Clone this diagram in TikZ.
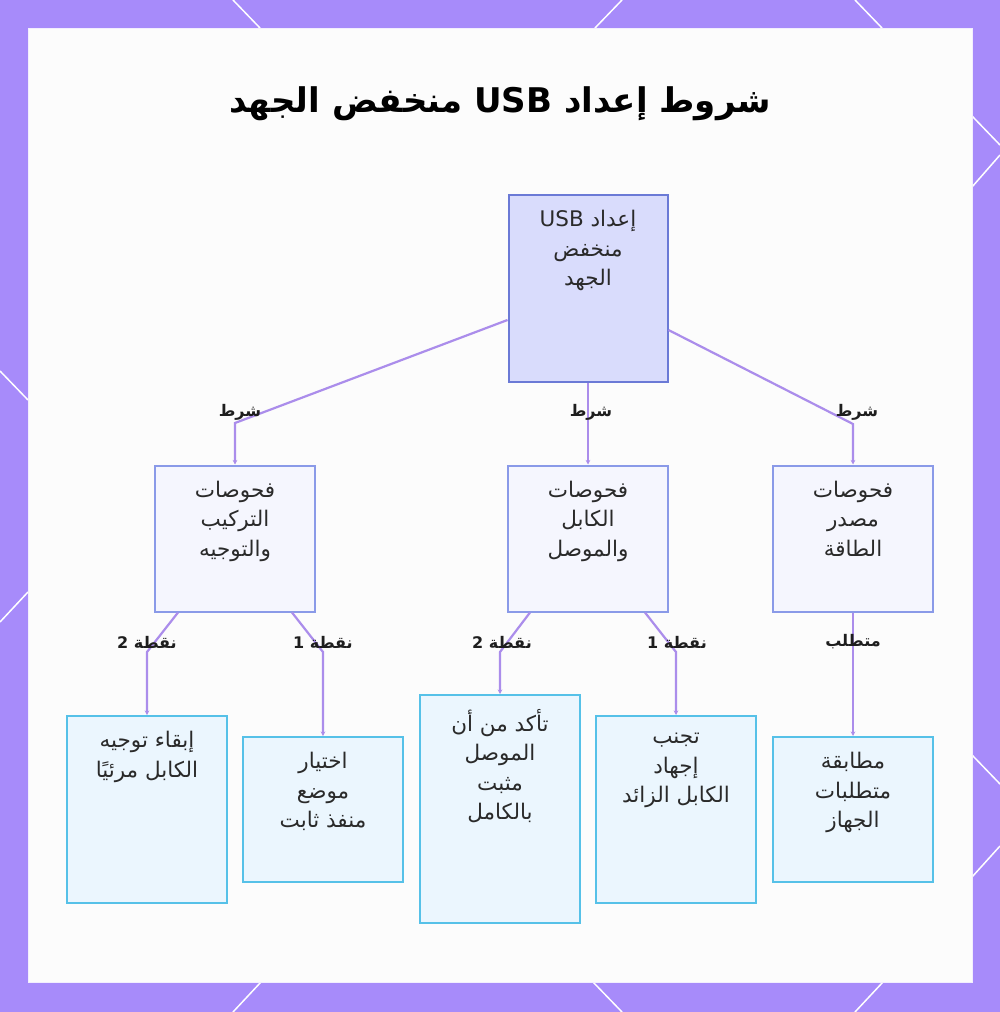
\documentclass[tikz,border=0pt]{standalone}
\usepackage{fontspec}
\newfontfamily\arabicfont[Script=Arabic]{DejaVu Sans}
\TeXXeTstate=1
\usetikzlibrary{arrows.meta}
\definecolor{bordc}{HTML}{A78BFA}
\definecolor{panelc}{HTML}{FCFCFC}
\definecolor{rootfill}{HTML}{D9DCFC}
\definecolor{rootdraw}{HTML}{6B7AD6}
\definecolor{midfill}{HTML}{F5F6FE}
\definecolor{middraw}{HTML}{8A9AE8}
\definecolor{leaffill}{HTML}{EBF6FE}
\definecolor{leafdraw}{HTML}{56C1E8}
\definecolor{connc}{HTML}{AB8DEB}
\definecolor{labc}{HTML}{1E1E1E}
\definecolor{txtc}{HTML}{2A2A2A}
\newcommand\rl[1]{\beginR#1\endR}
\tikzset{
  boxbase/.style={rectangle, line width=2pt, inner sep=0pt, minimum width=160pt},
  rootbox/.style={boxbase, fill=rootfill, draw=rootdraw},
  midbox/.style={boxbase, fill=midfill, draw=middraw},
  leafbox/.style={boxbase, fill=leaffill, draw=leafdraw},
  txt/.style={anchor=north, inner sep=0pt, align=center, text=txtc,
    font=\arabicfont\fontsize{21.5}{29.5}\selectfont,
    execute at begin node={\rule{0pt}{20pt}}},
  lab/.style={inner sep=0pt, text=labc, font=\arabicfont\bfseries\fontsize{16}{18}\selectfont},
  conn/.style={draw=connc, line width=2.2pt, -{Stealth[length=4.5pt,width=4.5pt]}},
  deco/.style={white, line width=1.5pt}
}
\begin{document}
\begin{tikzpicture}[x=1pt,y=-1pt]
\useasboundingbox (0,0) rectangle (1000,1012);
\fill[bordc] (0,0) rectangle (1000,1012);
% decorative white lines on the border
\draw[deco] (233,0) -- (260,28);
\draw[deco] (622,0) -- (595,28);
\draw[deco] (855,0) -- (882,28);
\draw[deco] (261,982) -- (233,1012);
\draw[deco] (593,982) -- (622,1012);
\draw[deco] (883,982) -- (855,1012);
\draw[deco] (0,371) -- (28,400);
\draw[deco] (28,592) -- (0,622);
\draw[deco] (972,116) -- (1000,145);
\draw[deco] (972,187) -- (1000,155);
\draw[deco] (972,755) -- (1000,784);
\draw[deco] (972,877) -- (1000,846);
% inner panel
\filldraw[fill=panelc, draw=white!85!bordc, line width=0.8pt] (28,28) rectangle (972,982);

% title
\node[font=\arabicfont\bfseries\fontsize{34}{40}\selectfont, text=black] (title) at (500,104)
  {\rl{شروط إعداد \beginL USB\endL{} منخفض الجهد}};

% boxes
\node[rootbox, minimum width=159pt, minimum height=187pt] (r) at (588,288.5) {};
\node[midbox, minimum height=146pt] (a) at (235,538.5) {};
\node[midbox, minimum height=146pt] (b) at (588,538.5) {};
\node[midbox, minimum height=146pt] (c) at (853,538.5) {};
\node[leafbox, minimum height=187pt] (d1) at (147,809.5) {};
\node[leafbox, minimum height=145pt] (d2) at (323,809.5) {};
\node[leafbox, minimum height=228pt] (d3) at (500,809) {};
\node[leafbox, minimum height=187pt] (d4) at (676,809.5) {};
\node[leafbox, minimum height=145pt] (d5) at (853,809.5) {};

% box texts
\node[txt] (rt) at ([yshift=-16pt]r.north) {\rl{إعداد \beginL USB\endL}\\\rl{منخفض}\\\rl{الجهد}};
\node[txt] (at) at ([yshift=-16pt]a.north) {\rl{فحوصات}\\\rl{التركيب}\\\rl{والتوجيه}};
\node[txt] (bt) at ([yshift=-16pt]b.north) {\rl{فحوصات}\\\rl{الكابل}\\\rl{والموصل}};
\node[txt] (ct) at ([yshift=-16pt]c.north) {\rl{فحوصات}\\\rl{مصدر}\\\rl{الطاقة}};
\node[txt] (d1t) at ([yshift=-16pt]d1.north) {\rl{إبقاء توجيه}\\\rl{الكابل مرئيًا}};
\node[txt] (d2t) at ([yshift=-16pt]d2.north) {\rl{اختيار}\\\rl{موضع}\\\rl{منفذ ثابت}};
\node[txt] (d3t) at ([yshift=-15pt]d3.north) {\rl{تأكد من أن}\\\rl{الموصل}\\\rl{مثبت}\\\rl{بالكامل}};
\node[txt] (d4t) at ([yshift=-18pt]d4.north) {\rl{تجنب}\\\rl{إجهاد}\\\rl{الكابل الزائد}};
\node[txt] (d5t) at ([yshift=-16pt]d5.north) {\rl{مطابقة}\\\rl{متطلبات}\\\rl{الجهاز}};

% knee coordinates
\coordinate (k1) at (235,423);
\coordinate (k3) at (853,424);
\coordinate (k4) at (147,652);
\coordinate (k5) at (323,652);
\coordinate (k6) at (500,652);
\coordinate (k7) at (676,652);

% connectors
\draw[conn] ([yshift=-31.5pt]r.west) -- (k1) -- (a.north);
\draw[conn] (r.south) -- (b.north);
\draw[conn] ([yshift=-41.5pt]r.east) -- (k3) -- (c.north);
\draw[conn] ([xshift=-57pt]a.south) -- (k4) -- (d1.north);
\draw[conn] ([xshift=57pt]a.south) -- (k5) -- (d2.north);
\draw[conn] ([xshift=-58pt]b.south) -- (k6) -- (d3.north);
\draw[conn] ([xshift=57pt]b.south) -- (k7) -- (d4.north);
\draw[conn] (c.south) -- (d5.north);

% labels
\node[lab] (l1) at (240,412) {\rl{شرط}};
\node[lab] (l2) at (591,412) {\rl{شرط}};
\node[lab] (l3) at (857,412) {\rl{شرط}};
\node[lab] (l4) at (147,642) {\rl{نقطة 2}};
\node[lab] (l5) at (323,642) {\rl{نقطة 1}};
\node[lab] (l6) at (502,642) {\rl{نقطة 2}};
\node[lab] (l7) at (677,642) {\rl{نقطة 1}};
\node[lab] (l8) at (853,642) {\rl{متطلب}};
\end{tikzpicture}
\end{document}
